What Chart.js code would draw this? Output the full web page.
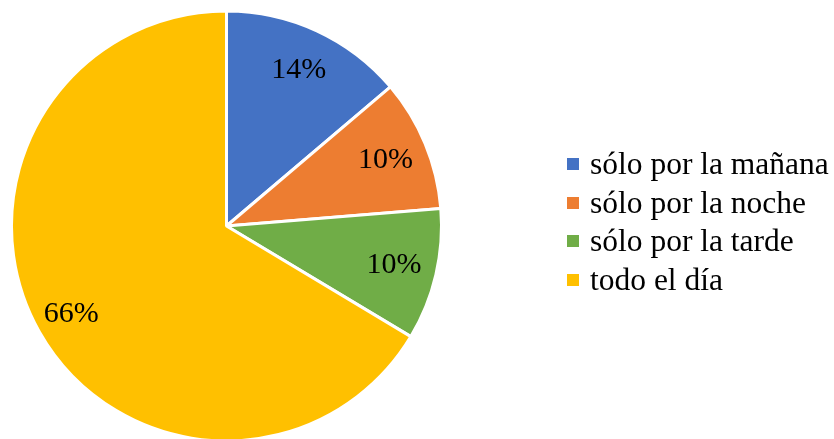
<!DOCTYPE html>
<html>
<head>
<meta charset="utf-8">
<script src="https://cdn.jsdelivr.net/npm/chart.js@4/dist/chart.umd.min.js"></script>
<style>
  html, body { margin: 0; padding: 0; background: #fff; }
  #wrap { position: relative; width: 834px; height: 439px; overflow: hidden; }
  #c { position: absolute; left: 0; top: 0; }
  #legend { position: absolute; left: 567px; top: 145px; font-family: "Liberation Serif", "Times New Roman", serif; font-size: 31.5px; color: #000; }
  #legend .item { height: 38.6px; line-height: 38.6px; white-space: nowrap; display: flex; align-items: center; }
  #legend .box { width: 12px; height: 12px; margin-right: 11px; display: inline-block; flex: none; }
</style>
</head>
<body>
<div id="wrap">
  <canvas id="c" width="834" height="439"></canvas>
  <div id="legend"></div>
</div>
<script>
const categories = ["sólo por la mañana", "sólo por la noche", "sólo por la tarde", "todo el día"];
const values = [13.8, 9.9, 9.9, 66.4];
const colors = ["#4472C4", "#ED7D31", "#70AD47", "#FFC000"];

const legendEl = document.getElementById('legend');
categories.forEach((c, i) => {
  const d = document.createElement('div');
  d.className = 'item';
  const b = document.createElement('span');
  b.className = 'box';
  b.style.background = colors[i];
  const t = document.createElement('span');
  t.textContent = c;
  d.appendChild(b); d.appendChild(t);
  legendEl.appendChild(d);
});

const labelPlugin = {
  id: 'pctLabels',
  afterDatasetsDraw(chart) {
    const ctx = chart.ctx;
    const meta = chart.getDatasetMeta(0);
    const data = chart.data.datasets[0].data;
    const total = data.reduce((a, b) => a + b, 0);
    ctx.save();
    ctx.font = '30px "Liberation Serif", "Times New Roman", serif';
    ctx.fillStyle = '#000';
    ctx.textAlign = 'center';
    ctx.textBaseline = 'middle';
    meta.data.forEach((arc, i) => {
      const p = arc.getProps(['x', 'y', 'startAngle', 'endAngle', 'outerRadius'], true);
      const mid = (p.startAngle + p.endAngle) / 2;
      const r = p.outerRadius * (i === 3 ? 0.83 : 0.8);
      const x = p.x + Math.cos(mid) * r;
      const y = p.y + Math.sin(mid) * r;
      ctx.fillText(Math.round(data[i] / total * 100) + '%', x, y);
    });
    ctx.restore();
  }
};

new Chart(document.getElementById('c'), {
  type: 'pie',
  data: {
    labels: categories,
    datasets: [{
      data: values,
      backgroundColor: colors,
      borderColor: '#ffffff',
      borderWidth: 3,
      hoverOffset: 0
    }]
  },
  options: {
    responsive: false,
    animation: false,
    radius: 215,
    layout: { padding: { left: 0, right: 381, top: 13, bottom: -4 } },
    plugins: {
      legend: { display: false },
      tooltip: { enabled: false }
    }
  },
  plugins: [labelPlugin]
});
</script>
</body>
</html>
